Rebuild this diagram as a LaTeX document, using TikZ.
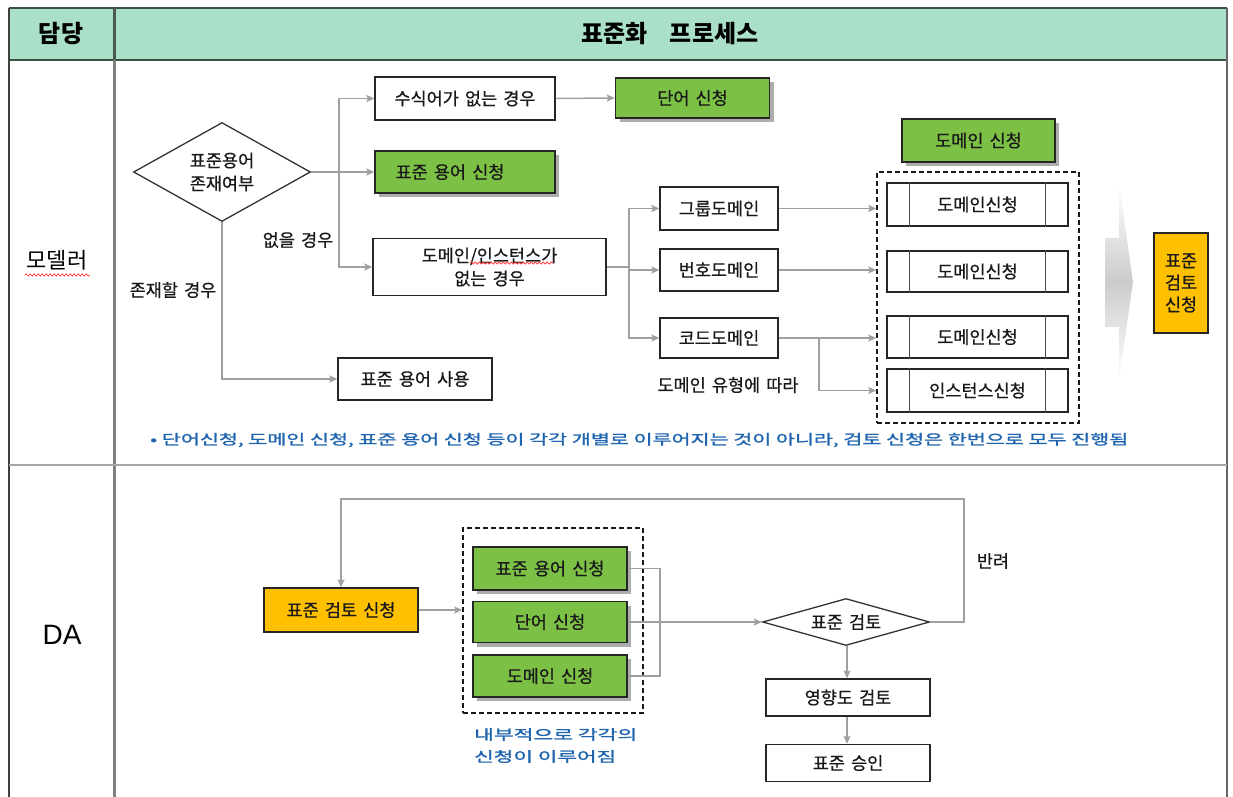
\documentclass[tikz,border=0pt]{standalone}
\usepackage{fontspec}
\usepackage{graphicx}
\setmainfont{Noto Sans CJK KR}
\newfontfamily\arialfont{Liberation Sans}
\newcommand\mywidesp{\spaceskip=0.35em plus 0.1em\relax}
\usetikzlibrary{shapes.geometric,shadows,arrows.meta,decorations.pathmorphing,calc}
\definecolor{hdr}{RGB}{170,224,200}
\definecolor{hdrline}{RGB}{60,80,70}
\definecolor{grn}{RGB}{125,192,70}
\definecolor{orn}{RGB}{255,192,0}
\definecolor{notec}{RGB}{30,100,175}
\definecolor{lnc}{RGB}{160,160,160}
\begin{document}
\begin{tikzpicture}[x=1pt,y=-1pt,
  txt/.style={font=\fontsize{17.5}{23}\selectfont\addfontfeatures{FakeBold=0.6}\mywidesp, text=black!90},
  bx/.style={draw=black!85, line width=1.3pt, fill=white, inner sep=0pt, align=center, txt},
  gbx/.style={bx, fill=grn, drop shadow={shadow xshift=4pt, shadow yshift=-4pt, fill=black!40, opacity=.8}},
  obx/.style={bx, fill=orn},
  dia/.style={diamond, draw=black!80, line width=1.3pt, fill=white, inner sep=0pt, align=center, txt},
  dashbox/.style={draw=black!90, line width=1.4pt, dash pattern=on 5pt off 3pt, inner sep=0pt},
  conn/.style={draw=lnc, line width=1.5pt, -{Stealth[length=8pt,width=7pt,inset=1.5pt]}},
  ln/.style={draw=lnc, line width=1.5pt},
  lbl/.style={txt, inner sep=0pt},
  notetxt/.style={font=\fontsize{14}{21}\selectfont\addfontfeatures{FakeBold=1.2}, text=notec, inner sep=0pt},
  wavy/.style={draw=red!80, line width=0.7pt, decorate, decoration={snake, amplitude=1.1pt, segment length=4pt}}
]
\useasboundingbox (0,0) rectangle (1233,797);
\fill[white] (0,0) rectangle (1233,797);

% ---- table frame ----
\fill[hdr] (9,8) rectangle (1227,60);
\draw[hdrline, line width=2.5pt] (9,8) -- (1227,8);
\draw[hdrline, line width=2.5pt] (9,60) -- (1227,60);
\draw[black!75, line width=2pt] (9,8) -- (9,797);
\draw[black!60, line width=2.5pt] (1227,8) -- (1227,797);
\draw[hdrline!80!gray, line width=3pt] (114,8) -- (114,60);
\draw[gray, line width=3pt] (114,60) -- (114,797);
\draw[gray!70, line width=2.5pt] (9,465) -- (1227,465);

\node[font=\fontsize{24}{28}\selectfont\bfseries, inner sep=0pt] (h1) at (61,34) {담당};
\node[font=\fontsize{24}{28}\selectfont\bfseries, inner sep=0pt] (h2) at (670,34) {표준화\hspace{22pt}프로세스};
\node[font=\fontsize{22}{26}\selectfont, inner sep=0pt] (r1) at (57,260) {모델러};
\draw[wavy] (25,275) -- (90,275);
\node[font=\fontsize{28}{30}\selectfont\arialfont, inner sep=0pt] (r2) at (62,635) {DA};

% ---- modeler row ----
\node[dia, minimum width=177pt, minimum height=99pt, shape aspect=1.8] (d1) at (222,172) {표준용어\\존재여부};
\node[bx, minimum width=180pt, minimum height=43pt] (b1) at (465,98.5) {수식어가 없는 경우};
\node[gbx, minimum width=180pt, minimum height=42pt] (g1) at (465,172) {표준 용어 신청\hspace*{30pt}};
\node[bx, minimum width=233pt, minimum height=57pt] (b3) at (489.5,267) {도메인/인스턴스가\\없는 경우};
\draw[wavy] (470,263) -- (553,263);
\node[bx, minimum width=154pt, minimum height=42pt] (use) at (415,379) {표준 용어 사용};
\node[gbx, minimum width=154pt, minimum height=40pt] (g2) at (692.5,98) {단어 신청};

\node[lbl] (l1) at (298,240) {없을 경우};
\node[lbl] (l2) at (173,290) {존재할 경우};

\coordinate (j1) at (339,172);
\draw[conn] (d1.east) -- (g1.west);
\draw[conn] (j1) |- (b1.west);
\draw[conn] (j1) |- (b3.west);
\draw[conn] (d1.south) |- (use.west);
\draw[conn] (b1.east) -- (g2.west);

\node[gbx, minimum width=153pt, minimum height=43pt] (g3) at (978.5,140.5) {도메인 신청};
\node[bx, minimum width=118pt, minimum height=43pt] (grp) at (719,208.5) {그룹도메인};
\node[bx, minimum width=118pt, minimum height=42pt] (num) at (719,270) {번호도메인};
\node[bx, minimum width=118pt, minimum height=40pt] (cod) at (719,338) {코드도메인};
\node[lbl] (l3) at (728,385) {도메인 유형에 따라};

\node[dashbox, minimum width=202pt, minimum height=251pt] (dsh) at (978,297.5) {};
\node[bx, minimum width=181pt, minimum height=43pt] (p1) at (977.5,204.5) {도메인신청};
\node[bx, minimum width=181pt, minimum height=41pt] (p2) at (977.5,271.5) {도메인신청};
\node[bx, minimum width=181pt, minimum height=42pt] (p3) at (977.5,337) {도메인신청};
\node[bx, minimum width=181pt, minimum height=43pt] (p4) at (977.5,390.5) {인스턴스신청};
\foreach \p in {p1,p2,p3,p4}{
  \draw[black!70, line width=1pt] ($(\p.north west)+(23,0)$) -- ($(\p.south west)+(23,0)$);
  \draw[black!70, line width=1pt] ($(\p.north east)+(-23,0)$) -- ($(\p.south east)+(-23,0)$);
}

\coordinate (j2) at (629,267);
\draw[ln] (b3.east) -- (j2);
\draw[conn] (j2) |- (grp.west);
\draw[conn] (j2) |- (cod.west);
\draw[conn] (j2 |- num.west) -- (num.west);
\draw[conn] (grp.east) -- (grp.east -| dsh.west);
\draw[conn] (num.east) -- (num.east -| dsh.west);
\draw[conn] (cod.east) -- (cod.east -| dsh.west);
\coordinate (j3) at (819,338);
\draw[conn] (j3) |- (dsh.west |- p4.west);

% big gray arrow
\shade[top color=white, bottom color=white, middle color=gray!40]
  (1105,238) -- (1119,238) -- (1119,183) -- (1133,282) -- (1119,380) -- (1119,327) -- (1105,327) -- cycle;

\node[obx, minimum width=54pt, minimum height=100pt, font=\fontsize{17.5}{22}\selectfont\addfontfeatures{FakeBold=0.6}] (o1) at (1181,283) {표준\\검토\\신청};

\node[notetxt, anchor=west] (n1) at (150,440) {\resizebox{978pt}{\height}{• 단어신청, 도메인 신청, 표준 용어 신청 등이 각각 개별로 이루어지는 것이 아니라, 검토 신청은 한번으로 모두 진행됨}};

% ---- DA row ----
\node[obx, minimum width=154pt, minimum height=44pt] (da1) at (341,610) {표준 검토 신청};
\node[dashbox, minimum width=180pt, minimum height=185pt] (dsh2) at (553,620.5) {};
\node[gbx, minimum width=154pt, minimum height=43pt] (ga) at (550,568.5) {표준 용어 신청};
\node[gbx, minimum width=154pt, minimum height=41pt] (gb) at (550,622) {단어 신청};
\node[gbx, minimum width=154pt, minimum height=42pt] (gc) at (550,676) {도메인 신청};
\node[dia, minimum width=167pt, minimum height=47pt, shape aspect=3.5] (d2) at (846,622) {표준 검토};
\node[bx, minimum width=164pt, minimum height=37pt] (imp) at (848,697.5) {영향도 검토};
\node[bx, minimum width=164pt, minimum height=37pt] (apr) at (848,763) {표준 승인};
\node[lbl] (l4) at (993,561) {반려};
\node[notetxt, anchor=north west, align=left] (n2) at (474,728) {\resizebox{163pt}{\height}{내부적으로 각각의}\\[1pt]\resizebox{142pt}{\height}{신청이 이루어짐}};

\draw[conn] (da1.east) -- (da1.east -| dsh2.west);
\draw[ln] (ga.east) -- (ga.east -| 660,0) |- (gc.east);
\draw[conn] (gb.east) -- (gb.east -| d2.west);
\coordinate (fb) at (964,499);
\draw[conn] (d2.east) -| (fb) -| (da1.north);
\draw[conn] (d2.south -| 847,0) -- (imp.north -| 847,0);
\draw[conn] (imp.south -| 847,0) -- (apr.north -| 847,0);
\end{tikzpicture}
\end{document}
